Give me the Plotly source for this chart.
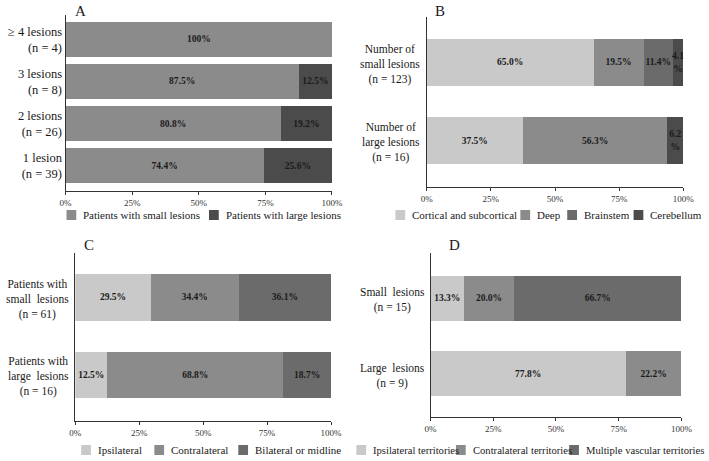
import plotly.graph_objects as go

W, H = 709, 461
SERIF = "Liberation Serif, Times New Roman, serif"

# ---------------- data ----------------
# Panel A (top to bottom)
a_categories = ["≥ 4 lesions<br>(n = 4)", "3 lesions<br>(n = 8)", "2 lesions<br>(n = 26)", "1 lesion<br>(n = 39)"]
a_series = ["Patients with small lesions", "Patients with large lesions"]
a_small = [100, 87.5, 80.8, 74.4]
a_large = [0, 12.5, 19.2, 25.6]

# Panel B
b_categories = ["Number of<br>small lesions<br>(n = 123)", "Number of<br>large lesions<br>(n = 16)"]
b_series = ["Cortical and subcortical", "Deep", "Brainstem", "Cerebellum"]
b_cortical = [65.0, 37.5]
b_deep = [19.5, 56.3]
b_brainstem = [11.4, 0]
b_cerebellum = [4.1, 6.2]

# Panel C
c_categories = ["Patients with<br>small\u00a0 lesions<br>(n = 61)", "Patients with<br>large\u00a0 lesions<br>(n = 16)"]
c_series = ["Ipsilateral", "Contralateral", "Bilateral or midline"]
c_ipsi = [29.5, 12.5]
c_contra = [34.4, 68.8]
c_bilateral = [36.1, 18.7]

# Panel D
d_categories = ["Small\u00a0 lesions<br>(n = 15)", "Large\u00a0 lesions<br>(n = 9)"]
d_series = ["Ipsilateral territories", "Contralateral territories", "Multiple vascular territories"]
d_ipsi = [13.3, 77.8]
d_contra = [20.0, 22.2]
d_multiple = [66.7, 0]

x_ticks = [0, 25, 50, 75, 100]
x_ticklabels = ["0%", "25%", "50%", "75%", "100%"]

# ---------------- styles ----------------
LIGHT, MID, DARK, DARKEST = "#c9c9c9", "#8b8b8b", "#6b6b6b", "#4b4b4b"


def px_x(p):
    return p / W


def px_y(p):
    return 1 - p / H


def fmt(v):
    if v <= 0:
        return ""
    if v >= 100:
        return "<b>100%</b>"
    if v < 8:
        return "<b>%.1f<br>%%</b>" % v
    return "<b>%.1f%%</b>" % v


fig = go.Figure()


def add_bar(vals, cats, color, xa, ya, width):
    fig.add_trace(go.Bar(
        x=vals, y=cats, orientation="h", width=width,
        marker=dict(color=color, line=dict(width=0)),
        text=[fmt(v) for v in vals], textposition="inside",
        insidetextanchor="middle", textangle=0, constraintext="none",
        insidetextfont=dict(family=SERIF, size=9.5, color="#1a1a1a"),
        xaxis=xa, yaxis=ya, showlegend=False, hoverinfo="x+y",
    ))


for vals, col in [(a_small, MID), (a_large, DARKEST)]:
    add_bar(vals, a_categories, col, "x", "y", 0.84)
for vals, col in [(b_cortical, LIGHT), (b_deep, MID), (b_brainstem, DARK), (b_cerebellum, DARKEST)]:
    add_bar(vals, b_categories, col, "x2", "y2", 0.6)
for vals, col in [(c_ipsi, LIGHT), (c_contra, MID), (c_bilateral, DARK)]:
    add_bar(vals, c_categories, col, "x3", "y3", 0.6)
for vals, col in [(d_ipsi, LIGHT), (d_contra, MID), (d_multiple, DARK)]:
    add_bar(vals, d_categories, col, "x4", "y4", 0.6)

# ---------------- axes ----------------
panels = {
    # name: (x0, x1, ytop, ybottom, range)
    "1": (61, 334, 15, 191, [3.607, -0.583]),
    "2": (431, 694, 17, 187, [1.596, -0.583]),
    "3": (71, 333, 253, 421, [1.594, -0.574]),
    "4": (435, 692, 253, 417, [1.576, -0.6]),
}

layout = dict(
    width=W, height=H, margin=dict(l=0, r=0, t=0, b=0),
    paper_bgcolor="white", plot_bgcolor="white",
    barmode="stack", font=dict(family=SERIF, color="#1a1a1a"),
    showlegend=False,
)
for k, (x0, x1, yt, yb, rng) in panels.items():
    xs = "xaxis" if k == "1" else "xaxis" + k
    ys = "yaxis" if k == "1" else "yaxis" + k
    yid = "y" if k == "1" else "y" + k
    layout[xs] = dict(
        domain=[px_x(x0), px_x(x1)], anchor=yid, range=[0, 100],
        tickmode="array", tickvals=x_ticks, ticktext=x_ticklabels,
        showgrid=False, zeroline=False,
        showline=True, linecolor="#333", linewidth=1, ticks="outside",
        ticklen=3, tickcolor="#333", tickfont=dict(family=SERIF, size=9, color="#333"),
        fixedrange=True,
    )
    layout[ys] = dict(
        domain=[px_y(yb), px_y(yt)], anchor="x" if k == "1" else "x" + k,
        range=rng, type="category", showgrid=False, zeroline=False,
        showline=True, linecolor="#333", linewidth=1, ticks="",
        showticklabels=(k == "1"),
        tickfont=dict(family=SERIF, size=12.5, color="#1a1a1a"),
        fixedrange=True,
    )
fig.update_layout(**layout)

annotations = []
shapes = []

# category labels centred for panels B, C, D
for cats, xr, yr, shift in [(b_categories, "x2 domain", "y2", -5),
                            (c_categories, "x3 domain", "y3", -4),
                            (d_categories, "x4 domain", "y4", -4)]:
    for c in cats:
        annotations.append(dict(
            text=c, x=0, xref=xr, y=c, yref=yr, xanchor="right", yanchor="middle",
            xshift=shift, yshift=-2, align="center", showarrow=False,
            font=dict(family=SERIF, size=11.5, color="#1a1a1a"),
        ))

# panel letters
for letter, x, y in [("A", 69, 11), ("B", 438, 11), ("C", 78, 245), ("D", 452, 245)]:
    annotations.append(dict(
        text=letter, x=px_x(x), y=px_y(y), xref="paper", yref="paper",
        xanchor="left", yanchor="middle", showarrow=False,
        font=dict(family=SERIF, size=15, color="#1a1a1a"),
    ))

# legends (swatch left edges, in px)
legends = [
    (a_series, [MID, DARKEST], [62, 208], 215, 11),
    (b_series, [LIGHT, MID, DARK, DARKEST], [399, 527, 575, 643], 215, 11),
    (c_series, [LIGHT, MID, DARK], [77, 152, 238], 450, 11),
    (d_series, [LIGHT, MID, DARK], [359, 461, 577], 450, 10.6),
]
for names, cols, xs, yc, fs in legends:
    for name, col, x in zip(names, cols, xs):
        shapes.append(dict(
            type="rect", xref="paper", yref="paper",
            x0=px_x(x), x1=px_x(x + 10), y0=px_y(yc + 5), y1=px_y(yc - 5),
            fillcolor=col, line=dict(width=0),
        ))
        annotations.append(dict(
            text=name, x=px_x(x + 15), y=px_y(yc), xref="paper", yref="paper",
            xanchor="left", yanchor="middle", showarrow=False,
            font=dict(family=SERIF, size=fs, color="#1a1a1a"),
        ))

fig.update_layout(annotations=annotations, shapes=shapes)
fig.write_html(
    "out.html",
    config={"displayModeBar": False},
    post_script="document.body.style.margin='0';document.body.style.padding='0';",
)
